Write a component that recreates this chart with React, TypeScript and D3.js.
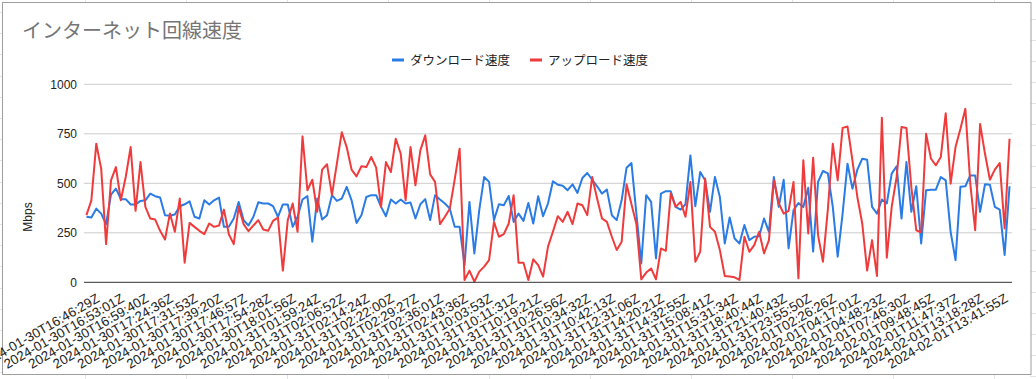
import React from 'react';
import * as d3 from 'd3';

const xLabels = [
  '2024-01-30T16:46:29Z', '2024-01-30T16:53:01Z', '2024-01-30T16:59:40Z', '2024-01-30T17:24:36Z',
  '2024-01-30T17:31:53Z', '2024-01-30T17:39:20Z', '2024-01-30T17:46:57Z', '2024-01-30T17:54:28Z',
  '2024-01-30T18:01:56Z', '2024-01-31T01:59:24Z', '2024-01-31T02:06:52Z', '2024-01-31T02:14:24Z',
  '2024-01-31T02:22:00Z', '2024-01-31T02:29:27Z', '2024-01-31T02:36:01Z', '2024-01-31T02:43:36Z',
  '2024-01-31T10:03:53Z', '2024-01-31T10:11:31Z', '2024-01-31T10:19:21Z', '2024-01-31T10:26:56Z',
  '2024-01-31T10:34:32Z', '2024-01-31T10:42:13Z', '2024-01-31T12:31:06Z', '2024-01-31T14:20:21Z',
  '2024-01-31T14:32:55Z', '2024-01-31T15:08:41Z', '2024-01-31T15:31:34Z', '2024-01-31T18:40:44Z',
  '2024-01-31T21:40:43Z', '2024-01-31T23:55:50Z', '2024-02-01T02:26:26Z', '2024-02-01T04:17:01Z',
  '2024-02-01T04:48:23Z', '2024-02-01T07:46:30Z', '2024-02-01T09:48:45Z', '2024-02-01T11:47:37Z',
  '2024-02-01T13:18:28Z', '2024-02-01T13:41:55Z',
];
const labelEvery = 5;

const download = [
  331, 327, 372, 347, 294, 443, 473, 420, 420, 393, 393, 411, 414, 448, 435, 428, 339, 336, 342, 384,
  394, 409, 331, 322, 414, 393, 414, 428, 280, 280, 322, 406, 314, 287, 331, 404, 398, 398, 385,
  331, 393, 393, 280, 331, 418, 435, 205, 423, 317, 339, 440, 411, 423, 482, 414, 300, 339, 431, 440,
  440, 381, 334, 418, 398, 418, 398, 403, 322, 394, 420, 314, 440, 418, 398, 372, 280,
  280, 87, 406, 146, 364, 532, 507, 314, 394, 389, 436, 305, 347, 310, 401, 297, 435, 334, 398, 510,
  493, 488, 465, 495, 451, 527, 552, 518, 485, 448, 468, 339, 314, 414, 579, 602, 347, 96, 440,
  406, 121, 448, 460, 460, 381, 367, 394, 641, 384, 557, 515, 356, 532, 431, 196, 327, 221, 196, 289,
  213, 230, 233, 322, 255, 532, 381, 518, 171, 364, 400, 380, 478, 155, 507, 562, 550, 381,
  129, 347, 599, 473, 569, 624, 619, 381, 347, 418, 398, 549, 586, 322, 607, 356, 485, 196, 465, 468,
  468, 532, 515, 255, 112, 482, 485, 540, 540, 356, 495, 493, 381, 367, 138, 485,
];

const upload = [
  339, 414, 700, 574, 193, 515, 582, 414, 532, 683, 361, 607, 381, 322, 317, 260, 216, 347, 255, 423,
  99, 300, 280, 260, 243, 297, 280, 287, 367, 243, 193, 381, 294, 258, 287, 314, 267, 260, 310,
  327, 59, 314, 398, 255, 737, 465, 518, 356, 569, 596, 440, 599, 758, 683, 569, 535, 586, 582, 633,
  579, 381, 607, 557, 725, 649, 414, 683, 490, 666, 742, 545, 507, 294, 331, 372, 520,
  675, 12, 59, 3, 54, 79, 112, 305, 230, 243, 297, 440, 99, 99, 12, 116, 87, 29, 180, 255,
  334, 305, 356, 294, 398, 389, 339, 532, 423, 322, 305, 230, 163, 205, 495, 394, 294, 15, 49,
  70, 15, 171, 159, 448, 381, 406, 331, 507, 104, 154, 524, 280, 255, 163, 32, 29, 25, 12, 230,
  154, 188, 255, 146, 213, 515, 398, 347, 361, 507, 20, 616, 247, 629, 238, 104, 370, 700,
  515, 780, 787, 616, 431, 297, 59, 213, 32, 831, 124, 381, 532, 784, 779, 480, 263, 252, 750, 624,
  591, 633, 854, 498, 683, 775, 876, 500, 263, 800, 649, 518, 569, 602, 272, 725,
];

const yTicks = [0, 250, 500, 750, 1000];
const seriesNames = ['ダウンロード速度', 'アップロード速度'];
const seriesColors = ['#2a7be4', '#ef3b3b'];
const title = 'インターネット回線速度';
const yTitle = 'Mbps';

const FONT = "'Liberation Sans', Arial, 'Noto Sans CJK JP', sans-serif";

export default function App() {
  const W = 1036;
  const H = 379;
  const plot = { left: 84, right: 1012, top: 84.3, bottom: 282.3 };
  const n = download.length;
  const x = d3.scaleBand<number>().domain(d3.range(n)).range([plot.left, plot.right]);
  const cx = (i: number) => (x(i) as number) + x.bandwidth() / 2;
  const y = d3.scaleLinear().domain([0, 1000]).range([plot.bottom, plot.top]);
  const line = d3.line<number>().x((_, i) => cx(i)).y((d) => y(d));

  const sheetCols = d3.range(0, 10).map((k) => 85 + 101 * k);
  const sheetRowsL = d3.range(0, 18).map((k) => 12 + 21.2 * k);
  const sheetRowsR = d3.range(0, 18).map((k) => 19 + 21 * k);

  return (
    <svg
      width={W}
      height={H}
      style={{ position: 'absolute', left: 0, top: 0, background: '#fff' }}
      fontFamily={FONT}
    >
      {sheetCols.map((gx) => (
        <line key={'c' + gx} x1={gx + 0.5} x2={gx + 0.5} y1={0} y2={H} stroke="#e2e3e3" />
      ))}
      {sheetRowsL.map((gy) => (
        <line key={'l' + gy} x1={0} x2={3} y1={Math.round(gy) + 0.5} y2={Math.round(gy) + 0.5} stroke="#e2e3e3" />
      ))}
      {sheetRowsR.map((gy) => (
        <line key={'r' + gy} x1={1030} x2={W} y1={Math.round(gy) + 0.5} y2={Math.round(gy) + 0.5} stroke="#e2e3e3" />
      ))}
      <rect x={2.5} y={2.5} width={1028.5} height={372} fill="#fff" stroke="#9e9e9e" strokeWidth={1} />

      <text x={22} y={38} fontSize={20} fill="#757575" fontFamily="'Noto Sans CJK JP', sans-serif">
        {title}
      </text>

      {(() => {
        const items = [
          { name: seriesNames[0], color: seriesColors[0], x0: 392 },
          { name: seriesNames[1], color: seriesColors[1], x0: 530 },
        ];
        return items.map((it) => (
          <g key={it.name}>
            <line x1={it.x0} x2={it.x0 + 12} y1={60} y2={60} stroke={it.color} strokeWidth={3} />
            <text x={it.x0 + 18} y={64.5} fontSize={12.5} fill="#222">
              {it.name}
            </text>
          </g>
        ));
      })()}

      {yTicks.filter((t) => t !== 0).map((t) => (
        <line key={t} x1={plot.left} x2={plot.right} y1={y(t)} y2={y(t)} stroke="#cccccc" strokeWidth={1} />
      ))}

      {yTicks.map((t) => (
        <text key={'yt' + t} x={77} y={y(t)} dy="0.36em" textAnchor="end" fontSize={12} fill="#222">
          {t}
        </text>
      ))}

      <text transform={`translate(32,217) rotate(-90)`} textAnchor="middle" fontSize={12} fill="#222">
        {yTitle}
      </text>

      <path d={line(download) || ''} fill="none" stroke={seriesColors[0]} strokeWidth={2} strokeLinejoin="round" />
      <path d={line(upload) || ''} fill="none" stroke={seriesColors[1]} strokeWidth={2} strokeLinejoin="round" />

      <line x1={plot.left} x2={plot.right} y1={y(0)} y2={y(0)} stroke="#333333" strokeWidth={1} />

      {xLabels.map((lab, j) => {
        const i = j * labelEvery;
        return (
          <text
            key={lab}
            transform={`translate(${cx(i) + 14},${301}) rotate(-30)`}
            textAnchor="end"
            fontSize={13.3}
            fill="#222"
          >
            {lab}
          </text>
        );
      })}
    </svg>
  );
}
